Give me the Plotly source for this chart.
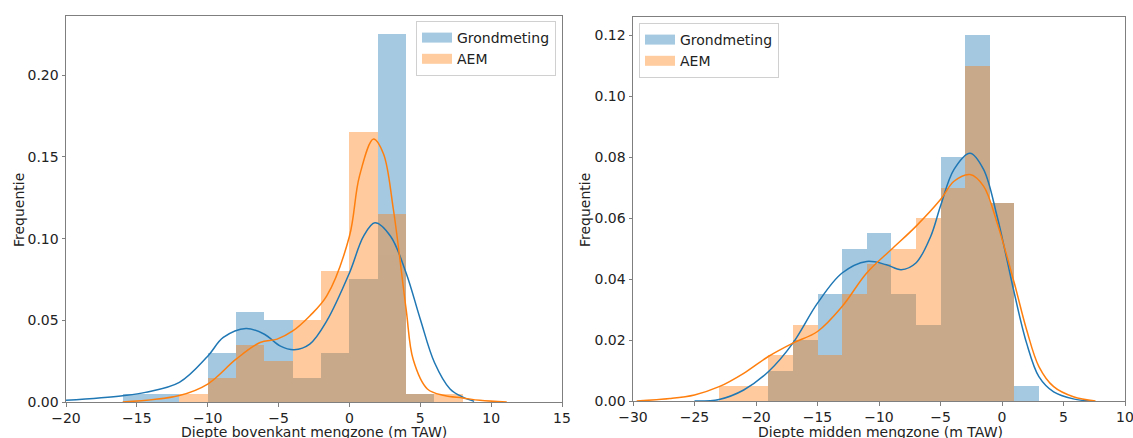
import plotly.graph_objects as go

# ---------------- data: left panel (Diepte bovenkant mengzone) ----------------
left_bin_centers = [-15, -13, -11, -9, -7, -5, -3, -1, 1, 3, 5, 7]
left_grond = [0.005, 0.005, 0.0, 0.03, 0.055, 0.05, 0.015, 0.03, 0.075, 0.225, 0.005, 0.0]
left_aem = [0.0, 0.0, 0.005, 0.015, 0.035, 0.025, 0.05, 0.08, 0.165, 0.115, 0.005, 0.005]

left_kde_grond_x = [-20, -16, -14.4, -12, -10, -8.9, -7.3, -6, -4.9, -3.9, -2.8, -1.6, 0, 1, 1.8, 2.9, 4, 5, 6, 7.1, 8, 8.8]
left_kde_grond_y = [0.001, 0.0039, 0.0059, 0.012, 0.028, 0.0395, 0.045, 0.0415, 0.0344, 0.032, 0.0354, 0.0496, 0.079, 0.1015, 0.1097, 0.1015, 0.079, 0.0507, 0.0242, 0.008, 0.003, 0.0005]
left_kde_aem_x = [-16, -12, -10, -8, -6.3, -5.1, -4, -2.8, -1.6, 0, 0.7, 1.7, 2.4, 3.1, 4, 4.5, 5.5, 6.7, 8, 9.2, 11.1]
left_kde_aem_y = [0.0, 0.004, 0.011, 0.0262, 0.0364, 0.0385, 0.0435, 0.0527, 0.0649, 0.1015, 0.138, 0.161, 0.152, 0.118, 0.0568, 0.026, 0.008, 0.004, 0.0025, 0.001, 0.0]

# ---------------- data: right panel (Diepte midden mengzone) ----------------
right_bin_centers = [-22, -20, -18, -16, -14, -12, -10, -8, -6, -4, -2, 0, 2]
right_grond = [0.0, 0.0, 0.01, 0.02, 0.035, 0.05, 0.055, 0.035, 0.025, 0.08, 0.12, 0.065, 0.005]
right_aem = [0.005, 0.005, 0.015, 0.025, 0.015, 0.035, 0.045, 0.05, 0.06, 0.07, 0.11, 0.065, 0.0]

right_kde_grond_x = [-25, -23, -21, -19, -17, -15, -13, -11, -9.4, -8.2, -7, -5.8, -5, -3.9, -2.6, -1.5, -0.4, 0.4, 1, 2, 3, 4.2, 5.8, 7.2]
right_kde_grond_y = [0.0, 0.0005, 0.0036, 0.0096, 0.019, 0.0321, 0.042, 0.0458, 0.0447, 0.0431, 0.0453, 0.054, 0.064, 0.076, 0.0813, 0.076, 0.0606, 0.0464, 0.0354, 0.019, 0.008, 0.003, 0.0007, 0.0]
right_kde_aem_x = [-29.7, -27, -25, -23, -21, -19, -17, -15, -13, -11, -9, -7, -5, -3.9, -2.6, -1.5, -0.4, 1, 2, 3, 4.2, 5.8, 7.6]
right_kde_aem_y = [0.0, 0.0008, 0.002, 0.0047, 0.0091, 0.0146, 0.019, 0.0228, 0.031, 0.042, 0.0497, 0.0573, 0.0661, 0.0721, 0.0743, 0.0705, 0.0585, 0.0387, 0.0234, 0.0113, 0.0047, 0.0014, 0.0]

series_names = ["Grondmeting", "AEM"]
x_titles = ["Diepte bovenkant mengzone (m TAW)", "Diepte midden mengzone (m TAW)"]
y_title = "Frequentie"

BLUE = "#1f77b4"
ORANGE = "#ff7f0e"
BLUE_A = "rgba(31,119,180,0.4)"
ORANGE_A = "rgba(255,127,14,0.4)"
FONT = "DejaVu Sans"
AX = "#7f7f7f"

fig = go.Figure()

def add_panel(xa, ya, centers, grond, aem, kgx, kgy, kax, kay, legend):
    fig.add_trace(go.Bar(x=centers, y=grond, width=2, marker=dict(color=BLUE, line=dict(width=0)),
                         opacity=0.4, xaxis=xa, yaxis=ya, showlegend=False, hoverinfo="skip"))
    fig.add_trace(go.Scatter(x=kgx, y=kgy, mode="lines", line=dict(color=BLUE, width=1.5, shape="spline", smoothing=1),
                             xaxis=xa, yaxis=ya, showlegend=False))
    fig.add_trace(go.Bar(x=centers, y=aem, width=2, marker=dict(color=ORANGE, line=dict(width=0)),
                         opacity=0.4, xaxis=xa, yaxis=ya, showlegend=False, hoverinfo="skip"))
    fig.add_trace(go.Scatter(x=kax, y=kay, mode="lines", line=dict(color=ORANGE, width=1.5, shape="spline", smoothing=1),
                             xaxis=xa, yaxis=ya, showlegend=False))
    # legend entries (patch-like)
    for name, col in zip(series_names, [BLUE_A, ORANGE_A]):
        fig.add_trace(go.Scatter(x=[None], y=[None], mode="lines", name=name,
                                 line=dict(color=col, width=10), xaxis=xa, yaxis=ya,
                                 legend=legend, showlegend=True))

add_panel("x", "y", left_bin_centers, left_grond, left_aem,
          left_kde_grond_x, left_kde_grond_y, left_kde_aem_x, left_kde_aem_y, "legend")
add_panel("x2", "y2", right_bin_centers, right_grond, right_aem,
          right_kde_grond_x, right_kde_grond_y, right_kde_aem_x, right_kde_aem_y, "legend2")

W, H = 1133, 438
def px(x): return x / W
def py(y): return 1 - y / H

axis_common = dict(showgrid=False, zeroline=False, showline=True, linecolor=AX, linewidth=1,
                   mirror=True, ticks="outside", ticklen=3.5, tickcolor=AX, tickwidth=1, automargin=False,
                   ticklabeloverflow="allow",
                   tickfont=dict(family=FONT, size=14, color="#222"))

fig.update_layout(
    width=W, height=H, margin=dict(l=0, r=0, t=0, b=0, autoexpand=False),
    paper_bgcolor="white", plot_bgcolor="white",
    barmode="overlay", bargap=0,
    font=dict(family=FONT, size=14, color="#222"),
    xaxis=dict(domain=[px(66), px(562)], range=[-20, 15], dtick=5, tick0=0, anchor="y", **axis_common),
    yaxis=dict(domain=[py(402), py(16)], range=[0, 0.2363], dtick=0.05, tickformat=".2f", anchor="x", **axis_common),
    xaxis2=dict(domain=[px(633), px(1125)], range=[-30, 10], dtick=5, tick0=0, anchor="y2", **axis_common),
    yaxis2=dict(domain=[py(401), py(17)], range=[0, 0.126], dtick=0.02, tickformat=".2f", anchor="x2", **axis_common),
    legend=dict(x=px(556), y=py(21), xanchor="right", yanchor="top",
                bgcolor="rgba(255,255,255,0.8)", bordercolor="#d0d0d0", borderwidth=1,
                font=dict(family=FONT, size=14), itemwidth=30, tracegroupgap=0),
    legend2=dict(x=px(639), y=py(23), xanchor="left", yanchor="top",
                 bgcolor="rgba(255,255,255,0.8)", bordercolor="#d0d0d0", borderwidth=1,
                 font=dict(family=FONT, size=14), itemwidth=30, tracegroupgap=0),
    annotations=[
        dict(text=x_titles[0], xref="paper", yref="paper", x=px(314), y=py(432),
             xanchor="center", yanchor="middle", showarrow=False, font=dict(family=FONT, size=14, color="#222")),
        dict(text=x_titles[1], xref="paper", yref="paper", x=px(880), y=py(432),
             xanchor="center", yanchor="middle", showarrow=False, font=dict(family=FONT, size=14, color="#222")),
        dict(text=y_title, xref="paper", yref="paper", x=px(19), y=py(210), textangle=-90,
             xanchor="center", yanchor="middle", showarrow=False, font=dict(family=FONT, size=14, color="#222")),
        dict(text=y_title, xref="paper", yref="paper", x=px(585), y=py(210), textangle=-90,
             xanchor="center", yanchor="middle", showarrow=False, font=dict(family=FONT, size=14, color="#222")),
    ],
)

# remove the default 8px page margin so the figure fills the window exactly; hide the mode bar
fig.write_html("out.html", config={"displayModeBar": False},
               post_script="document.body.style.margin='0';document.body.style.overflow='hidden';")
